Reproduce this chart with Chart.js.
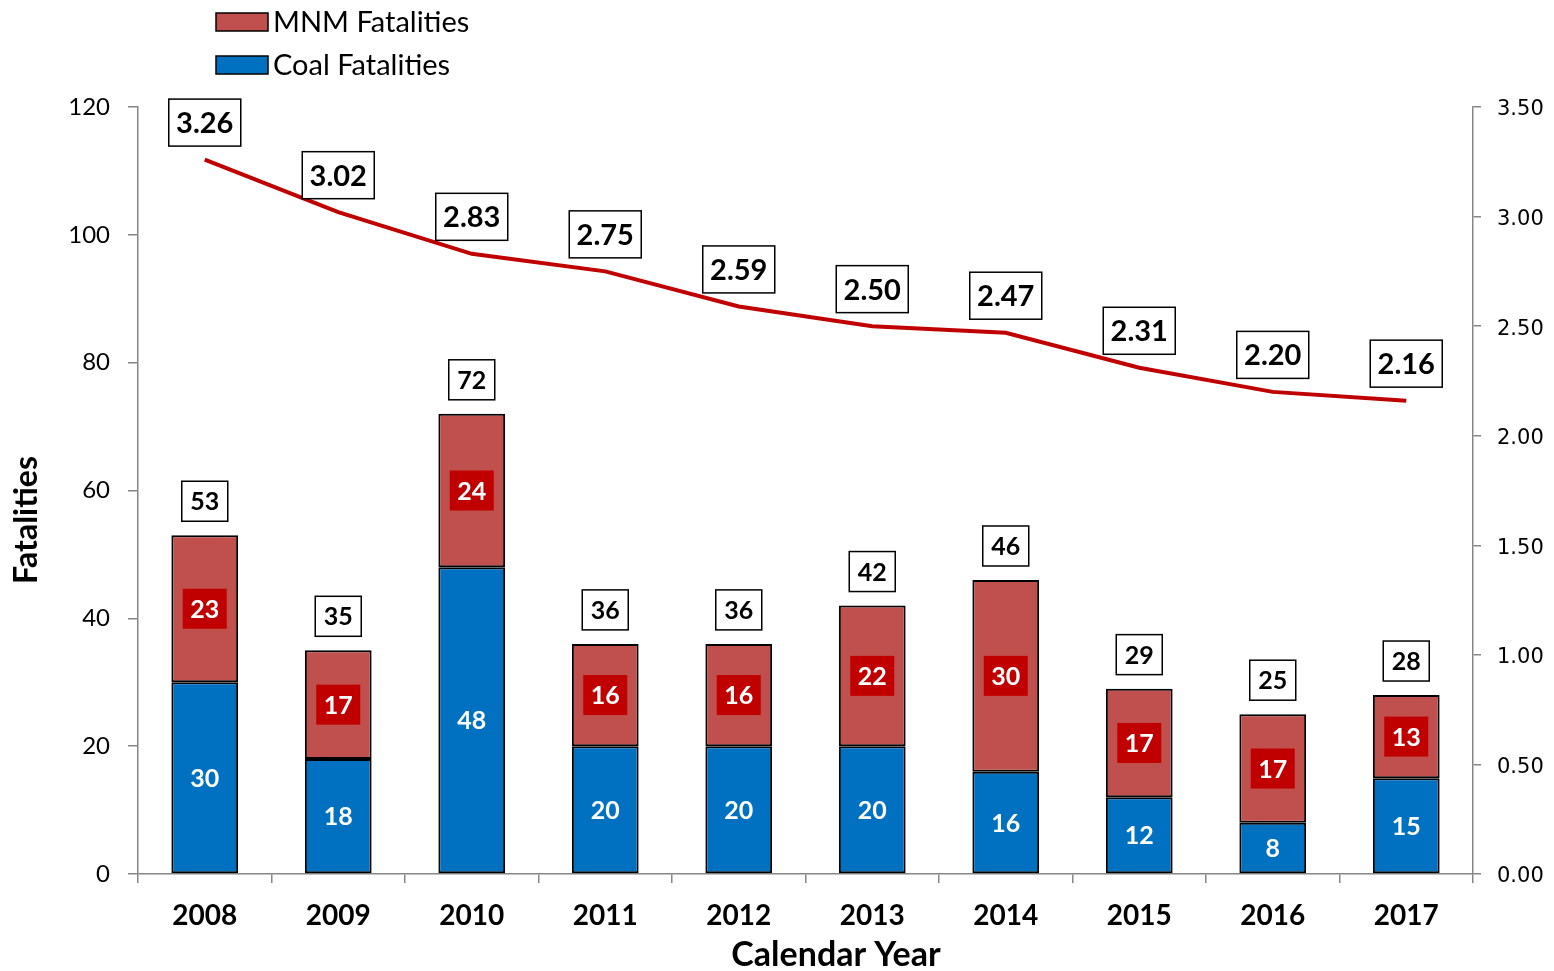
<!DOCTYPE html>
<html>
<head>
<meta charset="utf-8">
<script src="https://cdn.jsdelivr.net/npm/chart.js@4"></script>
<style>
html,body{margin:0;padding:0;background:#fff;}
canvas{display:block;}
</style>
</head>
<body>
<canvas id="c" width="1554" height="971"></canvas>
<script>
const years = ['2008','2009','2010','2011','2012','2013','2014','2015','2016','2017'];
const coalFatalities = [30,18,48,20,20,20,16,12,8,15];
const mnmFatalities = [23,17,24,16,16,22,30,17,17,13];
const fatalityRate = [3.26,3.02,2.83,2.75,2.59,2.50,2.47,2.31,2.20,2.16];
const leftTicks = [0,20,40,60,80,100,120];
const rightTicks = [0,0.5,1,1.5,2,2.5,3,3.5];

const FONT = 'Lato, "Open Sans", sans-serif';
const AXIS = '#868686';

function box(ctx, cx, cy, w, h, fill, stroke, lw) {
  ctx.save();
  ctx.fillStyle = fill;
  ctx.fillRect(cx - w/2, cy - h/2, w, h);
  if (stroke) {
    ctx.strokeStyle = stroke;
    ctx.lineWidth = lw;
    ctx.strokeRect(cx - w/2, cy - h/2, w, h);
  }
  ctx.restore();
}

const labelsPlugin = {
  id: 'labelsPlugin',
  afterDatasetsDraw(chart) {
    const ctx = chart.ctx;
    const coalMeta = chart.getDatasetMeta(0);
    const mnmMeta = chart.getDatasetMeta(1);
    const lineMeta = chart.getDatasetMeta(2);
    ctx.save();
    ctx.textAlign = 'center';
    ctx.textBaseline = 'middle';
    ctx.font = 'bold 25px ' + FONT;
    coalMeta.data.forEach((el, i) => {
      const cy = (el.y + el.base) / 2;
      ctx.fillStyle = '#ffffff';
      ctx.fillText(String(coalFatalities[i]), el.x, cy + 1);
    });
    mnmMeta.data.forEach((el, i) => {
      const cy = (el.y + el.base) / 2;
      box(ctx, el.x, cy, 44, 40, '#C00000');
      ctx.fillStyle = '#ffffff';
      ctx.fillText(String(mnmFatalities[i]), el.x, cy + 1);
    });
    mnmMeta.data.forEach((el, i) => {
      const total = coalFatalities[i] + mnmFatalities[i];
      const cy = el.y - 34;
      box(ctx, el.x, cy, 46, 40, '#ffffff', '#000000', 1.5);
      ctx.fillStyle = '#000000';
      ctx.fillText(String(total), el.x, cy + 1);
    });
    ctx.font = 'bold 29px ' + FONT;
    lineMeta.data.forEach((el, i) => {
      const cy = el.y - 37;
      box(ctx, el.x, cy, 72, 47, '#ffffff', '#000000', 1.5);
      ctx.fillStyle = '#000000';
      ctx.fillText(fatalityRate[i].toFixed(2), el.x, cy + 1);
    });
    ctx.restore();
  },
  afterDraw(chart) {
    const ctx = chart.ctx;
    ctx.save();
    ctx.fillStyle = '#000';
    ctx.textAlign = 'center';
    ctx.textBaseline = 'middle';
    ctx.font = 'bold 32px ' + FONT;
    ctx.save();
    ctx.translate(27, 520);
    ctx.rotate(-Math.PI / 2);
    ctx.fillText(chart.options.scales.y.title.text, 0, 0);
    ctx.restore();
    ctx.font = 'bold 34px ' + FONT;
    ctx.fillText(chart.options.scales.x.title.text, 836, 955);
    const items = [chart.data.datasets[1], chart.data.datasets[0]];
    ctx.textAlign = 'left';
    ctx.font = '29px ' + FONT;
    items.forEach((ds, k) => {
      const cy = 22 + k * 43;
      ctx.fillStyle = ds.backgroundColor;
      ctx.fillRect(216, cy - 9, 52, 18);
      ctx.strokeStyle = '#000';
      ctx.lineWidth = 1.5;
      ctx.strokeRect(216, cy - 9, 52, 18);
      ctx.fillStyle = '#000';
      ctx.fillText(ds.label, 273, cy + 1);
    });
    ctx.restore();
  }
};

new Chart(document.getElementById('c'), {
  type: 'bar',
  data: {
    labels: years,
    datasets: [
      {
        label: 'Coal Fatalities',
        data: coalFatalities,
        backgroundColor: '#0070C0',
        borderColor: '#000000',
        borderWidth: 2,
        borderSkipped: false,
        stack: 's',
        yAxisID: 'y',
        order: 2,
        barPercentage: 0.5,
        categoryPercentage: 1
      },
      {
        label: 'MNM Fatalities',
        data: mnmFatalities,
        backgroundColor: '#C0504D',
        borderColor: '#000000',
        borderWidth: 2,
        borderSkipped: false,
        stack: 's',
        yAxisID: 'y',
        order: 2,
        barPercentage: 0.5,
        categoryPercentage: 1
      },
      {
        type: 'line',
        label: 'Fatality Rate',
        data: fatalityRate,
        borderColor: '#C00000',
        backgroundColor: '#C00000',
        borderWidth: 4,
        pointRadius: 0,
        tension: 0,
        yAxisID: 'y1',
        order: 1
      }
    ]
  },
  options: {
    responsive: false,
    animation: false,
    layout: { padding: { top: 107, left: 0, right: 0, bottom: 0 } },
    plugins: { legend: { display: false }, tooltip: { enabled: false } },
    scales: {
      x: {
        stacked: true,
        offset: true,
        title: { display: false, text: 'Calendar Year' },
        grid: { display: true, drawOnChartArea: false, drawTicks: true, tickLength: 9, color: AXIS, lineWidth: 1.5, offset: true },
        border: { display: true, color: AXIS, width: 1.5 },
        ticks: { color: '#000', font: { family: FONT, size: 28, weight: 'bold' }, padding: 16, maxRotation: 0 },
        afterFit(scale) { scale.height = 97; }
      },
      y: {
        stacked: true,
        position: 'left',
        min: 0,
        max: 120,
        title: { display: false, text: 'Fatalities' },
        grid: { display: true, drawOnChartArea: false, drawTicks: true, tickLength: 10, color: AXIS, lineWidth: 1.5 },
        border: { display: true, color: AXIS, width: 1.5 },
        afterBuildTicks(scale) { scale.ticks = leftTicks.map(v => ({ value: v })); },
        ticks: { color: '#000', font: { family: FONT, size: 24 }, padding: 18 },
        afterFit(scale) { scale.width = 138; }
      },
      y1: {
        position: 'right',
        min: 0,
        max: 3.5,
        grid: { display: true, drawOnChartArea: false, drawTicks: true, tickLength: 8, color: AXIS, lineWidth: 1.5 },
        border: { display: true, color: AXIS, width: 1.5 },
        afterBuildTicks(scale) { scale.ticks = rightTicks.map(v => ({ value: v })); },
        ticks: { color: '#000', font: { family: '"DejaVu Sans", Verdana, sans-serif', size: 21 }, padding: 16, labelOffset: 3, callback: v => Number(v).toFixed(2) },
        afterFit(scale) { scale.width = 81; }
      }
    }
  },
  plugins: [labelsPlugin]
});
</script>
</body>
</html>
